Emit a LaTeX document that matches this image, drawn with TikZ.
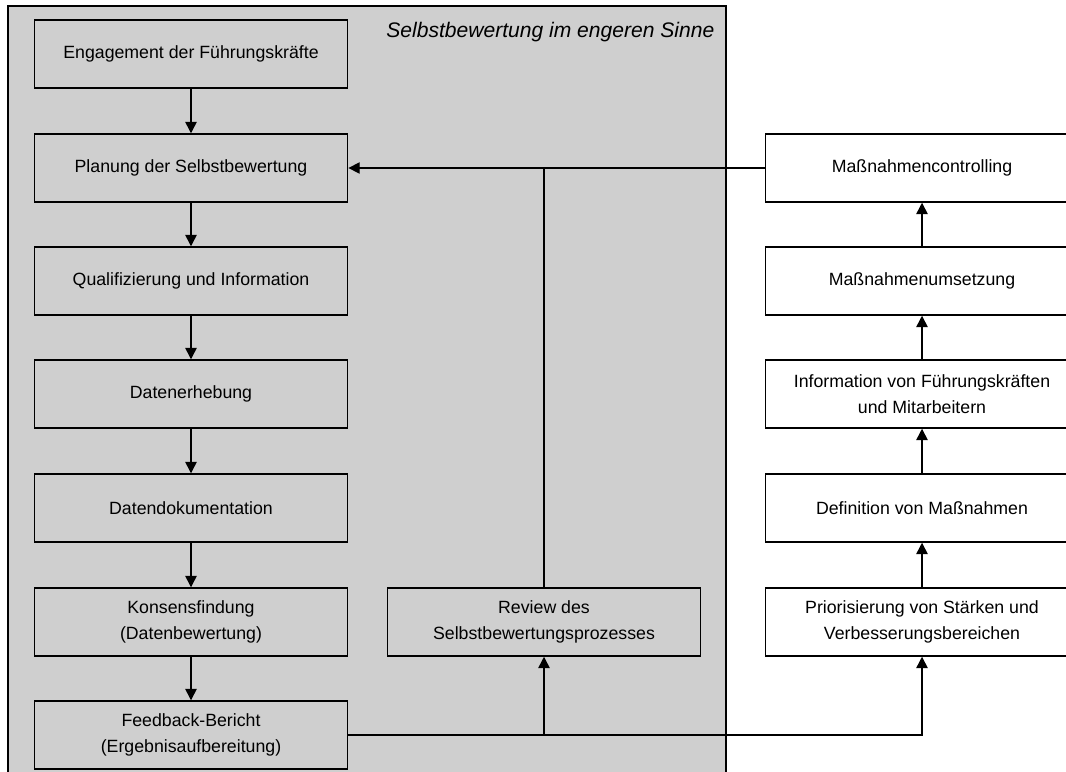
\documentclass[tikz,border=0pt]{standalone}
\usepackage{fontspec}
\setmainfont{Liberation Sans}
\usetikzlibrary{arrows.meta}
\definecolor{panelgray}{RGB}{207,207,207}
\begin{document}
\begin{tikzpicture}[x=0.75pt,y=-0.75pt,
  box/.style={draw=black,line width=1.1pt,minimum width=235pt,minimum height=51pt,
    inner sep=0pt,align=center,font=\fontsize{13.3}{19.5}\selectfont},
  graybox/.style={box,fill=panelgray},
  whitebox/.style={box,fill=white},
  flow/.style={line width=1.1pt,-{Triangle[length=8.5pt,width=8.5pt]}},
  link/.style={line width=1.1pt}]
\useasboundingbox (0,0) rectangle (1066,771);
\clip (0,0) rectangle (1066,771);

% shaded area of the self-assessment in the narrow sense
\draw[fill=panelgray,line width=1.3pt] (8,6) rectangle (726,800);
\node[anchor=base east,font=\fontsize{15.8}{18}\selectfont\itshape] (title) at (719,37)
  {Selbstbewertung im engeren Sinne};

% left column
\node[graybox] (eng)  at (191,54)  {Engagement der Führungskräfte};
\node[graybox] (plan) at (191,168) {Planung der Selbstbewertung};
\node[graybox] (qual) at (191,281) {Qualifizierung und Information};
\node[graybox] (erh)  at (191,394) {Datenerhebung};
\node[graybox] (dok)  at (191,508) {Datendokumentation};
\node[graybox] (kons) at (191,622) {Konsensfindung\\(Datenbewertung)};
\node[graybox] (feed) at (191,735) {Feedback-Bericht\\(Ergebnisaufbereitung)};

% review
\node[graybox] (rev) at (544,622) {Review des\\Selbstbewertungsprozesses};

% right column
\node[whitebox] (ctrl) at (922,168) {Maßnahmencontrolling};
\node[whitebox] (ums)  at (922,281) {Maßnahmenumsetzung};
\node[whitebox] (info) at (922,394) {Information von Führungskräften\\und Mitarbeitern};
\node[whitebox] (defm) at (922,508) {Definition von Maßnahmen};
\node[whitebox] (prio) at (922,622) {Priorisierung von Stärken und\\Verbesserungsbereichen};

% junction points
\coordinate (jtop) at (rev.north |- plan.east);
\coordinate (jbot) at (rev.south |- feed.east);

% left column flow
\draw[flow] (eng) -- (plan);
\draw[flow] (plan) -- (qual);
\draw[flow] (qual) -- (erh);
\draw[flow] (erh) -- (dok);
\draw[flow] (dok) -- (kons);
\draw[flow] (kons) -- (feed);

% right column flow
\draw[flow] (prio) -- (defm);
\draw[flow] (defm) -- (info);
\draw[flow] (info) -- (ums);
\draw[flow] (ums) -- (ctrl);

% feedback report to review and prioritisation
\draw[link] (feed.east) -- (jbot);
\draw[flow] (jbot) -- (rev.south);
\draw[flow] (jbot) -| (prio.south);

% review and controlling back to planning
\draw[link] (rev.north) -- (jtop);
\draw[flow] (ctrl.west) -- (plan.east);
\end{tikzpicture}
\end{document}
